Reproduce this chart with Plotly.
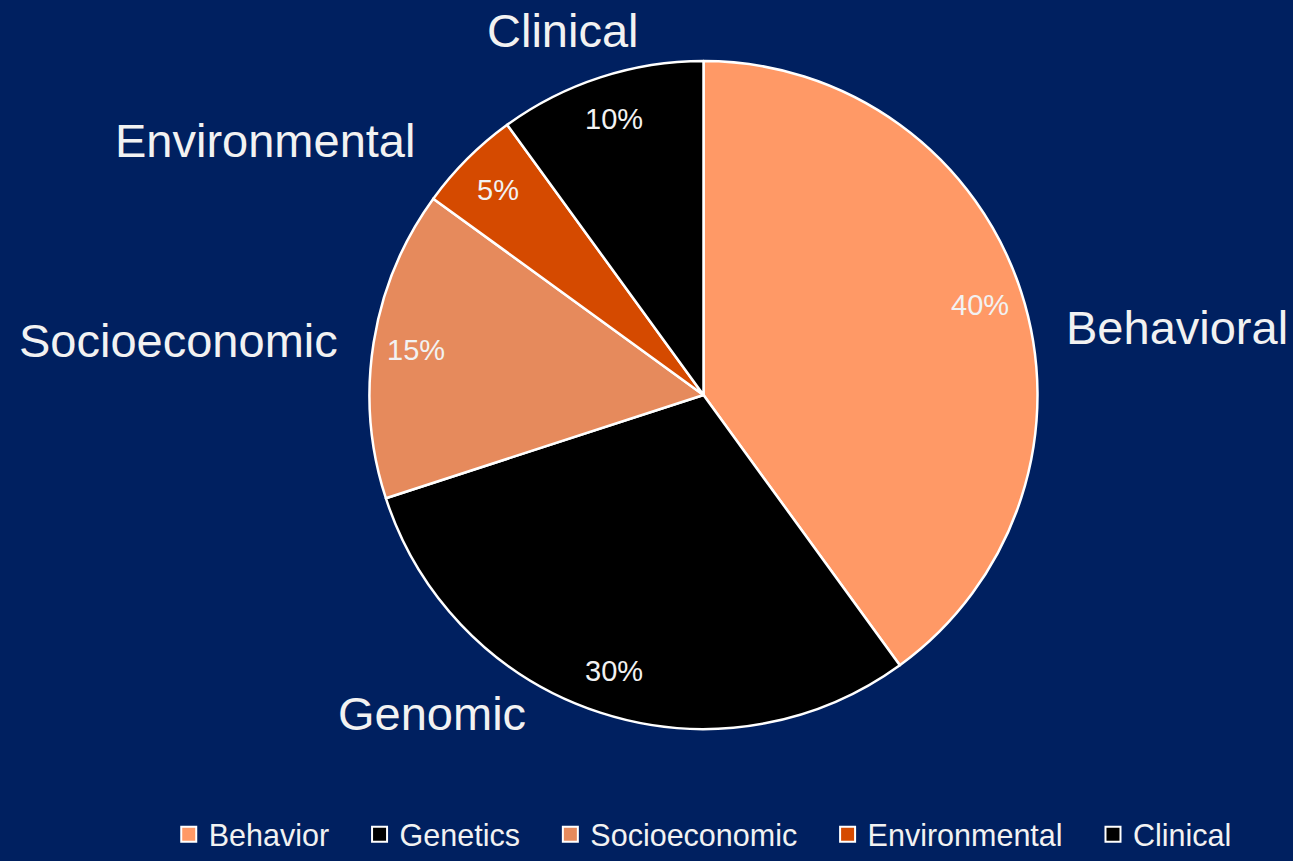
import math
import plotly.graph_objects as go

categories = ["Behavior", "Genetics", "Socioeconomic", "Environmental", "Clinical"]
outer_labels = ["Behavioral", "Genomic", "Socioeconomic", "Environmental", "Clinical"]
values = [40, 30, 15, 5, 10]
colors = ["#FF9966", "#000000", "#E68A5C", "#D54A00", "#000000"]

W, H = 1293, 861
MB = 70                      # bottom margin reserved for the legend
HP = H - MB                  # plot-area height
FONT = "Liberation Sans, Arial"
TXT = "#F2F2F2"

# pie geometry (pixels)
CX, CY, R = 703.5, 395.0, 334.0
LABEL_R = 0.87  # radial position of percentage labels (fraction of radius)

# outer category label positions in pixels (text centres)
label_pos = {
    "Behavioral": (1177, 327),
    "Genomic": (432, 713),
    "Socioeconomic": (178, 340),
    "Environmental": (265, 140),
    "Clinical": (563, 30),
}


def fx(px):
    return px / W


def fy(py):
    return (HP - py) / HP


fig = go.Figure()
fig.add_trace(go.Pie(
    labels=categories,
    values=values,
    sort=False,
    direction="clockwise",
    rotation=0,
    marker=dict(colors=colors, line=dict(color="#FFFFFF", width=2.5)),
    textinfo="none",
    showlegend=False,
    domain=dict(x=[fx(CX - R), fx(CX + R)], y=[fy(CY + R), fy(CY - R)]),
    hoverinfo="label+percent",
))

# legend entries (square swatches with white border)
n = len(categories)
for i, (name, col) in enumerate(zip(categories, colors)):
    pad = "\u00a0\u00a0\u00a0" if i < n - 1 else ""
    fig.add_trace(go.Scatter(
        x=[None], y=[None], mode="markers", name=name + pad,
        marker=dict(symbol="square", size=15, color=col, line=dict(color="#FFFFFF", width=2)),
        showlegend=True, hoverinfo="skip",
    ))

# percentage labels placed at each slice's mid-angle (clockwise from 12 o'clock)
total = sum(values)
cum = 0
for v in values:
    mid = (cum + v / 2) / total * 2 * math.pi
    cum += v
    px = CX + LABEL_R * R * math.sin(mid)
    py = CY - LABEL_R * R * math.cos(mid)
    fig.add_annotation(
        x=fx(px), y=fy(py), xref="paper", yref="paper",
        text=f"{round(v / total * 100)}%", showarrow=False,
        xanchor="center", yanchor="middle",
        font=dict(family=FONT, size=29, color=TXT),
    )

for name in outer_labels:
    x, y = label_pos[name]
    fig.add_annotation(
        x=fx(x), y=fy(y), xref="paper", yref="paper",
        text=name, showarrow=False, xanchor="center", yanchor="middle",
        font=dict(family=FONT, size=47, color=TXT),
    )

fig.update_layout(
    width=W, height=H,
    margin=dict(l=0, r=0, t=0, b=MB),
    paper_bgcolor="#002060",
    plot_bgcolor="#002060",
    xaxis=dict(visible=False),
    yaxis=dict(visible=False),
    showlegend=True,
    legend=dict(
        orientation="h", x=0.5435, xanchor="center",
        y=fy(H), yanchor="bottom",
        font=dict(family=FONT, size=30.5, color=TXT),
        traceorder="normal", itemwidth=30, tracegroupgap=0,
    ),
)

fig.write_html("out.html")
